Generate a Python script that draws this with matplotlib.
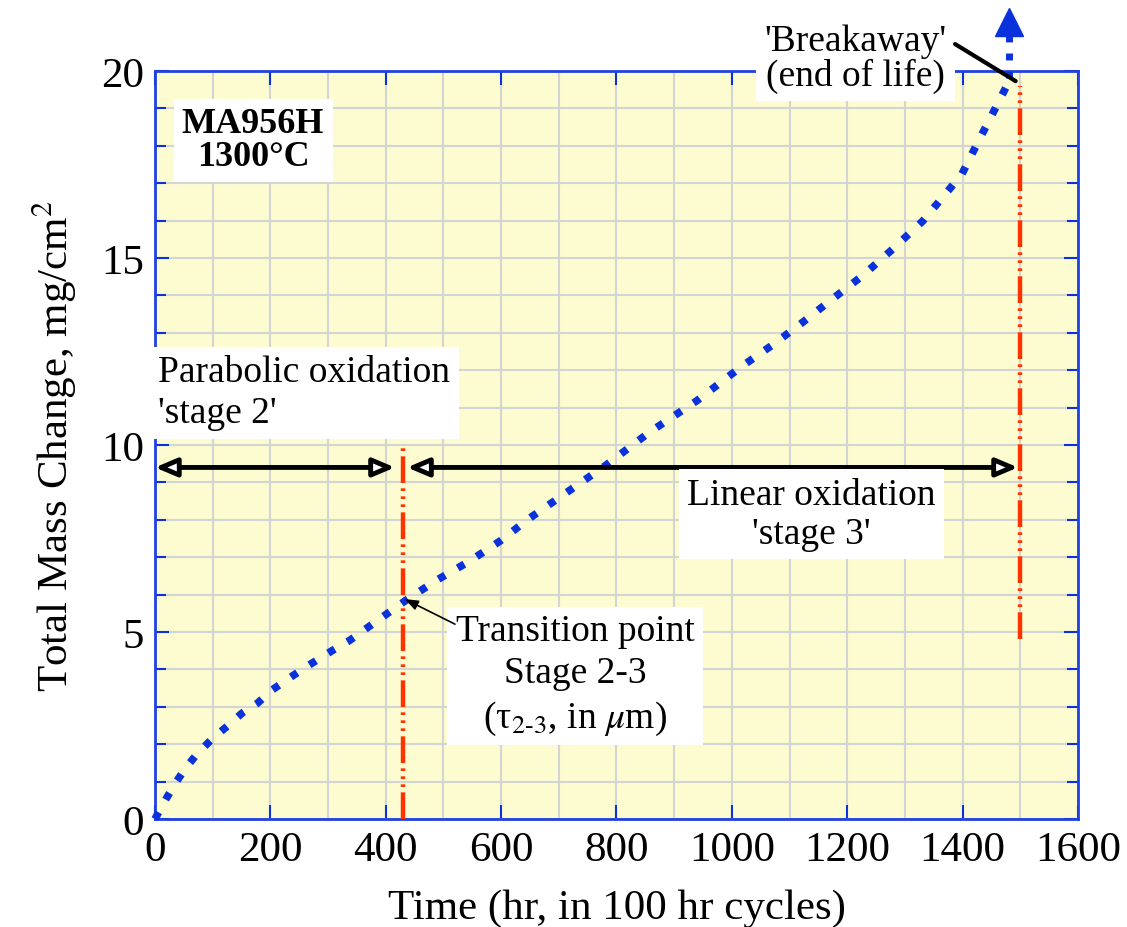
import matplotlib
matplotlib.use("Agg")
import matplotlib.pyplot as plt
from matplotlib.ticker import MultipleLocator

plt.rcParams['font.family'] = ['Liberation Serif', 'DejaVu Serif']
plt.rcParams['mathtext.fontset'] = 'stix'

# curve
time = [0, 19, 33, 52, 73, 99, 126, 151, 178, 203, 255, 307, 336, 438, 490,
        546, 598, 650, 780, 858, 939, 1016, 1070, 1121, 1174, 1226, 1279,
        1331, 1376, 1399, 1425, 1450, 1478]
mass = [0, 0.53, 0.9, 1.34, 1.74, 2.14, 2.49, 2.83, 3.1, 3.45, 4.0, 4.5, 4.76,
        5.88, 6.4, 6.9, 7.43, 8.05, 9.44, 10.35, 11.18, 12.09, 12.67, 13.26,
        13.9, 14.52, 15.24, 15.99, 16.82, 17.25, 18.05, 18.8, 19.65]

t_trans = 430
t_break = 1500
y_stage = 9.4
blue = '#0a32dc'
red = '#ff3300'

fig = plt.figure(figsize=(11.27, 9.28), dpi=100)
ax = fig.add_axes([0.1375, 0.1164, 0.819, 0.806])
ax.set_facecolor('#fcfcd0')

ax.set_xlim(0, 1600)
ax.set_ylim(0, 20)
ax.xaxis.set_major_locator(MultipleLocator(200))
ax.xaxis.set_minor_locator(MultipleLocator(100))
ax.yaxis.set_major_locator(MultipleLocator(5))
ax.yaxis.set_minor_locator(MultipleLocator(1))
ax.grid(True, which='both', color='#d4d4d4', lw=1.5, zorder=0)
ax.set_axisbelow(True)
ax.tick_params(which='both', direction='in', top=True, right=True,
               color=blue, width=1.5, labelsize=31, pad=8)
ax.tick_params(which='major', length=10)
ax.tick_params(which='minor', length=8)
ax.tick_params(axis='x', which='minor', length=0)
for s in ax.spines.values():
    s.set_color('#2040e0')
    s.set_linewidth(2)

ax.set_xlabel('Time (hr, in 100 hr cycles)', fontsize=31, labelpad=14)
ax.set_ylabel('Total Mass Change, mg/cm$^2$', fontsize=31, labelpad=16)

# red stage boundaries
dd = (0, (6, 1.2, 0.6, 1.2, 0.6, 1.2, 0.6, 1.2))
ax.plot([t_trans, t_trans], [0, 10], color=red, lw=3.2, ls=dd, zorder=3)
ax.plot([t_break, t_break], [4.8, 19.6], color=red, lw=3.2, ls=dd, zorder=3)

# data curve
ax.plot(time, mass, color=blue, lw=5.5, ls=(0, (1, 1.9)), zorder=4,
        clip_on=False)
ax.plot([1480, 1480], [19.8, 21.0], color=blue, lw=5, ls=(0, (1, 1.6)),
        clip_on=False, zorder=4)
ax.plot([1480], [21.3], marker='^', ms=20, color=blue, clip_on=False,
        zorder=4)

# stage arrows
ap = dict(arrowstyle='<|-|>,head_length=1.3,head_width=0.55', fc='white',
          ec='black', lw=3.5, shrinkA=0, shrinkB=0)
ax.annotate('', xy=(416, y_stage), xytext=(0, y_stage), arrowprops=ap,
            zorder=5)
ax.annotate('', xy=(1496, y_stage), xytext=(437, y_stage), arrowprops=ap,
            zorder=5)

box = dict(fc='white', ec='none', pad=6)
ax.text(170, 18.15, 'MA956H\n1300°C', fontsize=26, fontweight='bold',
        ha='center', va='center', linespacing=1.0, bbox=box, zorder=6)
ax.text(6, 11.4, "Parabolic oxidation\n'stage 2'", fontsize=27, ha='left',
        va='center', linespacing=1.25, bbox=box, zorder=6)
ax.text(1138, 8.15, "Linear oxidation\n'stage 3'", fontsize=27,
        ha='center', va='center', linespacing=1.15, bbox=box, zorder=6)
ax.text(728, 3.85, 'Transition point\nStage 2-3\n(τ$_{2\\text{-}3}$, in $\\mu$m)',
        fontsize=27, ha='center', va='center', linespacing=1.3, bbox=box,
        zorder=6)
ax.annotate('', xy=(433, 5.88), xytext=(520, 5.21),
            arrowprops=dict(arrowstyle='-|>,head_length=0.8,head_width=0.3',
                            color='black', lw=1.2, shrinkA=0, shrinkB=0),
            zorder=6)
ax.text(1214, 20.35, "'Breakaway'\n(end of life)", fontsize=27,
        ha='center', va='center', linespacing=1.0, bbox=box, zorder=6,
        clip_on=False)
ax.annotate('', xy=(1492, 19.73), xytext=(1387, 20.72),
            arrowprops=dict(arrowstyle='-', color='black', lw=3,
                            shrinkA=0, shrinkB=0), annotation_clip=False,
            zorder=6)

fig.savefig('out.png', dpi=100)
